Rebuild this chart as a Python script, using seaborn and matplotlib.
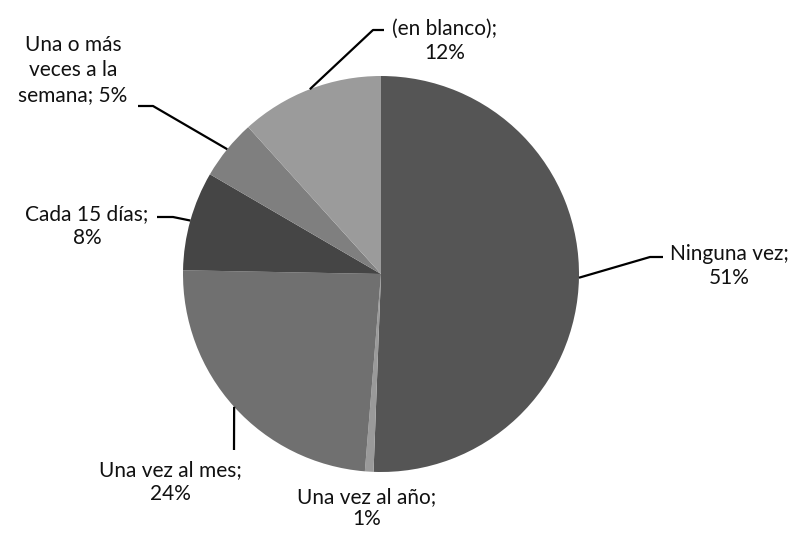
import numpy as np
import matplotlib
matplotlib.use("Agg")
import matplotlib.pyplot as plt
import seaborn as sns

# slices, clockwise from 12 o'clock
categories = ["Ninguna vez", "Una vez al año", "Una vez al mes",
              "Cada 15 días", "Una o más veces a la semana", "(en blanco)"]
shares = [50.6, 0.7, 24.0, 8.1, 4.9, 11.7]
pct_labels = ["51%", "1%", "24%", "8%", "5%", "12%"]
label_text = ["Ninguna vez;\n51%", "Una vez al año;\n1%", "Una vez al mes;\n24%",
              "Cada 15 días;\n8%", "Una o más\nveces a la\nsemana; 5%", "(en blanco);\n12%"]
colors = ["#555555", "#9a9a9a", "#707070", "#454545", "#7f7f7f", "#9b9b9b"]

sns.set_theme(style="white")
plt.rcParams['font.family'] = ['Lato', 'DejaVu Sans']

W, H = 801, 534
fig = plt.figure(figsize=(W / 100, H / 100), dpi=100)
ax = fig.add_axes([0, 0, 1, 1])

cx, cy, r = 381, H - 274, 198
ax.pie(shares, colors=colors, startangle=90, counterclock=False,
       center=(cx, cy), radius=r, wedgeprops=dict(linewidth=0))
ax.set_xlim(0, W)
ax.set_ylim(0, H)
ax.set_aspect('equal')
ax.axis('off')

# label layout (pixel coords, y down): elbow, line end, text centre, line spacing
layout = {
    0: ((650, 257), (663, 257), (729, 266), 1.3),
    1: (None, None, (367, 508), 1.15),
    2: ((234, 450), None, (170, 482), 1.3),
    3: ((173, 217), (157, 217), (87, 226), 1.3),
    4: ((153, 106), (138, 106), (73, 70), 1.3),
    5: ((373, 30), (384, 30), (445, 41), 1.3),
}

cum = np.cumsum([0] + shares[:-1])
total = sum(shares)
for i, s in enumerate(shares):
    mid = np.deg2rad((cum[i] + s / 2) / total * 360)
    x0 = cx + r * np.sin(mid)
    y0 = cy + r * np.cos(mid)
    elbow, end, txt, ls = layout[i]
    if elbow is not None:
        xs = [x0, elbow[0]]
        ys = [y0, H - elbow[1]]
        if end is not None:
            xs.append(end[0])
            ys.append(H - end[1])
        ax.plot(xs, ys, color="black", lw=1.6, solid_capstyle='butt')
    ax.text(txt[0], H - txt[1], label_text[i], ha="center", va="center",
            multialignment="center", fontsize=15, color="#111111",
            linespacing=ls)

fig.savefig("out.png", dpi=100)
